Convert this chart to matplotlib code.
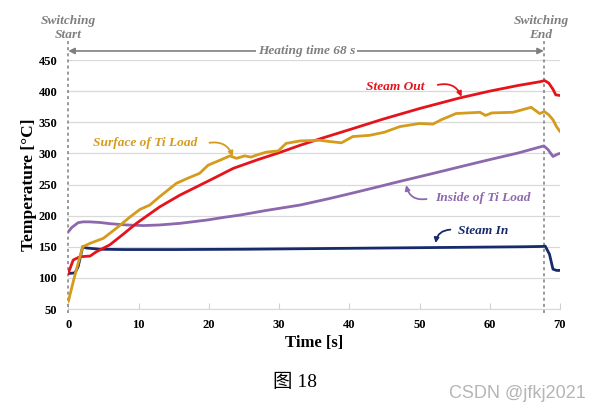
import matplotlib
matplotlib.use("Agg")
import matplotlib.pyplot as plt

# ---------------- data ----------------
t_out = [0, 0.7, 1.66, 3.1, 4, 5.9, 7.8, 9.7, 13, 15.9, 20, 23.5, 27, 30, 33, 36, 40,
         44.8, 50, 55.7, 60, 64, 67.1, 67.8, 68.4, 69, 69.4, 70]
T_out = [107.5, 128.7, 134, 135, 142, 153, 170, 187.6, 214, 233, 256, 276, 290,
         301, 313, 324, 338, 355, 372, 389, 400, 409, 415, 417, 413, 403, 394, 393]

t_surf = [0, 0.95, 2.05, 3.1, 5, 7.1, 8.8, 10.2, 11.6, 13, 15.4, 17, 18.7, 19.9, 21.8, 23,
          23.96, 25.1, 26, 27, 28.2, 29.9, 31, 33, 35.8, 37.2, 38.9, 40.5, 42.9, 45, 47.2,
          50, 51.9, 53.1, 55.2, 58.6, 59.4, 60.3, 63.3, 65.9, 67.1, 67.8, 68.4, 69, 69.5, 70]
T_surf = [62, 105, 150, 155.5, 163.6, 182, 198, 210, 217, 230.4, 252, 260, 268, 281, 290, 296,
          292, 296, 294, 298, 302, 304, 316, 320, 321, 319, 317, 327, 329, 334, 343,
          348, 347, 354, 364, 366, 361, 365, 366, 374, 364, 367, 362, 354, 343, 335]

t_in = [0, 0.5, 1.4, 2.1, 3, 4.5, 6, 8.3, 10.7, 13, 15.9, 19.8, 22, 24.5, 28, 33, 37, 40, 44,
        47.2, 52, 56.7, 60, 64, 67.7, 68.3, 69, 69.7, 70]
T_in = [174, 181, 188.7, 190, 190, 189, 187, 185, 184, 185, 187.6, 193, 197, 201, 208, 217,
        227, 235, 246, 255, 268, 281, 290, 300.5, 312, 306, 295, 299, 300]

t_steam = [0, 0.95, 1.4, 2.05, 2.6, 4.5, 8, 15, 25, 35, 45, 55, 65, 67.5, 67.9, 68.5, 69, 69.5, 70]
T_steam = [107, 108, 118, 150, 148, 146, 145.5, 145.5, 146, 147, 148, 149, 150, 150.5, 151, 138,
           114, 112, 112]

x_ticks = [0, 10, 20, 30, 40, 50, 60, 70]
y_ticks = [50, 100, 150, 200, 250, 300, 350, 400, 450]
t_end = 67.7

RED = "#e5141c"
GOLD = "#d59b1c"
PURPLE = "#8c68ad"
NAVY = "#172a6b"
GRAY = "#7f7f7f"

serif = ["Liberation Serif", "DejaVu Serif"]

fig = plt.figure(figsize=(6.02, 4.13), dpi=100)
ax = fig.add_axes([68.3 / 602, 1 - 309 / 413, (560 - 68.3) / 602, (309 - 60) / 413])

ax.set_xlim(0, 70)
ax.set_ylim(50, 450)
ax.set_xticks(x_ticks)
ax.set_yticks(y_ticks)
ax.yaxis.grid(True, color="#d9d9d9", lw=0.9)
ax.set_axisbelow(True)
for s in ["top", "right", "left"]:
    ax.spines[s].set_visible(False)
ax.spines["bottom"].set_color("#d9d9d9")
ax.tick_params(axis="y", length=0, pad=8)
ax.tick_params(axis="x", length=4, color="#d0d0d0", direction="in", pad=7)
for lab in ax.get_xticklabels() + ax.get_yticklabels():
    lab.set_fontfamily(serif)
    lab.set_fontweight("bold")
    lab.set_fontsize(9)

ax.set_xlabel("Time [s]", fontfamily=serif, fontweight="bold", fontsize=12, labelpad=3)
ax.set_ylabel("Temperature [°C]", fontfamily=serif, fontweight="bold", fontsize=12.5, labelpad=1)

lw = 2.0
ax.plot(t_steam, T_steam, color=NAVY, lw=lw, solid_capstyle="round", solid_joinstyle="round")
ax.plot(t_in, T_in, color=PURPLE, lw=lw, solid_capstyle="round", solid_joinstyle="round")
ax.plot(t_out, T_out, color=RED, lw=lw, solid_capstyle="round", solid_joinstyle="round")
ax.plot(t_surf, T_surf, color=GOLD, lw=lw, solid_capstyle="round", solid_joinstyle="round")

# dotted switching lines
for xv in (0, t_end):
    ax.plot([xv, xv], [44, 482], color=GRAY, lw=1.1, ls=(0, (2, 2)), clip_on=False, zorder=1)

txt_kw = dict(fontfamily=serif, fontweight="bold", style="italic", fontsize=9.6)
ax.text(0, 502, "Switching\nStart", ha="center", va="center", color=GRAY,
        linespacing=1.2, clip_on=False, **txt_kw)
ax.text(t_end - 0.4, 502, "Switching\nEnd", ha="center", va="center", color=GRAY,
        linespacing=1.2, clip_on=False, **txt_kw)

# heating arrow
ax.annotate("", xy=(0, 464.5), xytext=(t_end, 464.5),
            arrowprops=dict(arrowstyle="<|-|>", color=GRAY, lw=1.2, mutation_scale=9,
                            shrinkA=0, shrinkB=0), annotation_clip=False)
ax.text(33.9, 464.5, "Heating time 68 s", ha="center", va="center", color=GRAY,
        bbox=dict(facecolor="white", edgecolor="none", pad=1.5), clip_on=False, **txt_kw)

# labels and curved arrows
def label(x, y, s, c, start, end, rad):
    ax.text(x, y, s, ha="center", va="center", color=c, **txt_kw)
    ax.annotate("", xy=end, xytext=start,
                arrowprops=dict(arrowstyle="-|>", color=c, lw=1.3, mutation_scale=7,
                                connectionstyle=f"arc3,rad={rad}", shrinkA=0, shrinkB=0))

label(46.5, 406.6, "Steam Out", RED, (52.6, 410), (56, 391), -0.4)
label(10.9, 317, "Surface of Ti Load", GOLD, (20.1, 317), (23.4, 295), -0.4)
label(59, 228, "Inside of Ti Load", PURPLE, (51.0, 226.7), (48.1, 249), -0.45)
label(59, 175, "Steam In", NAVY, (54.4, 177.5), (52.3, 156), 0.4)

fig.text(295 / 602, 1 - 382 / 413, "图 18", ha="center", va="center",
         fontfamily=["Liberation Serif", "Noto Sans CJK SC"], fontsize=14)
fig.text(517 / 602, 1 - 394 / 413, "CSDN @jfkj2021", ha="center", va="center",
         fontfamily="Liberation Sans", fontsize=13, color="#b5b5b5")

fig.savefig("out.png", dpi=100)
